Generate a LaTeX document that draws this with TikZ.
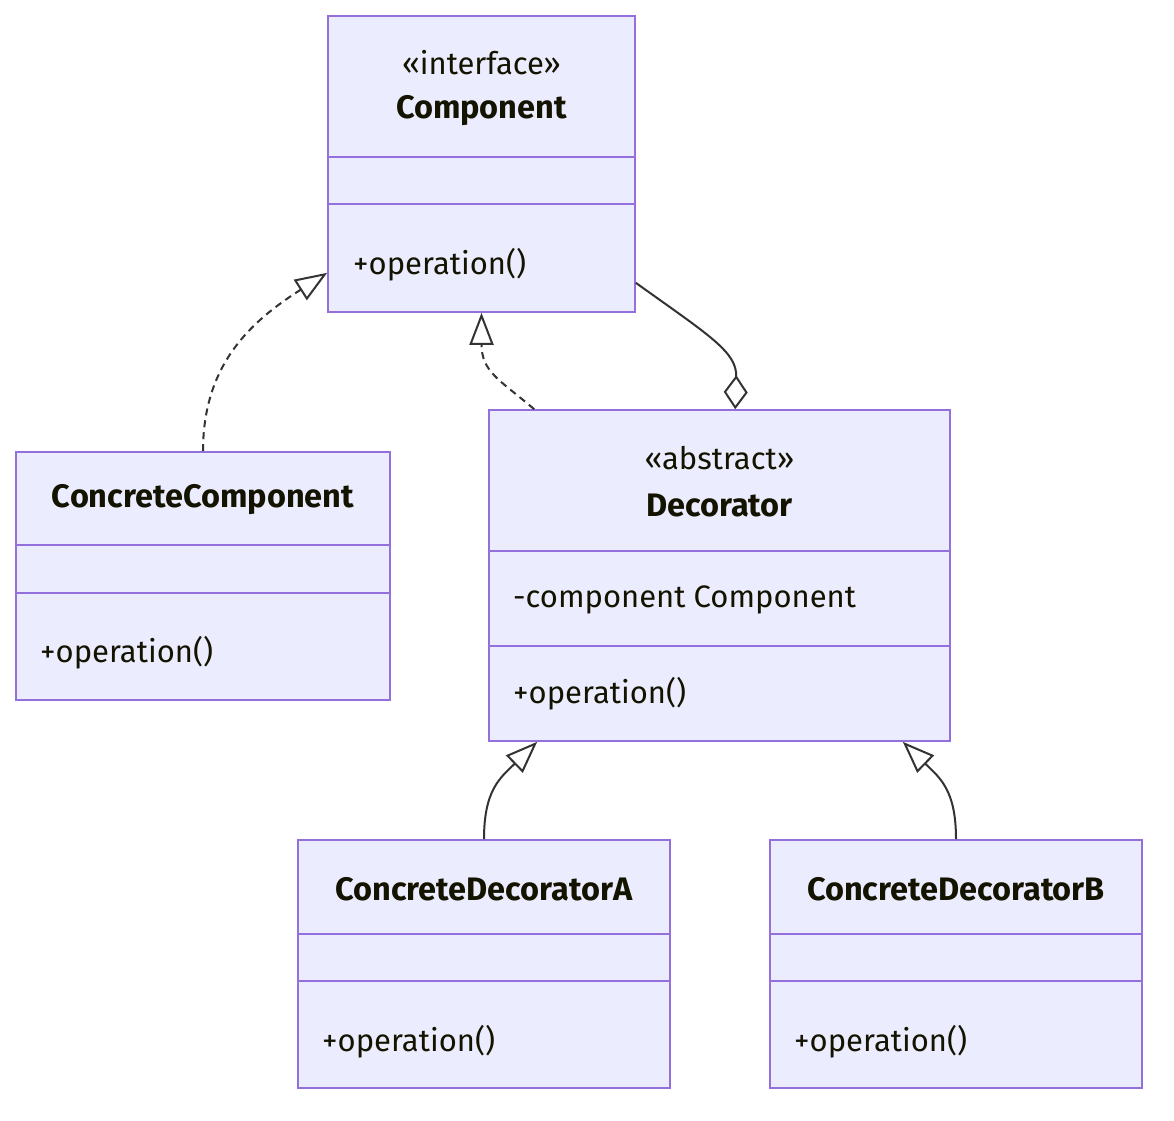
\documentclass[tikz,border=0pt]{standalone}
\usepackage{fontspec}
\usepackage{tikz}
\usepackage{xcolor}
\setmainfont{Fira Sans}
\usetikzlibrary{arrows.meta}
\definecolor{boxfill}{HTML}{ECECFF}
\definecolor{boxline}{HTML}{9370DB}
\definecolor{edgeline}{HTML}{333333}
\definecolor{textcol}{HTML}{131300}

\begin{document}
\begin{tikzpicture}[x=1pt,y=-1pt,
  classbox/.style={draw=boxline,fill=boxfill,line width=1.6pt,inner sep=0pt},
  divider/.style={draw=boxline,line width=1.6pt},
  title/.style={font=\fontsize{32.5}{38}\selectfont\bfseries,text=textcol,inner sep=0pt},
  stereo/.style={font=\fontsize{31}{36}\selectfont,text=textcol,inner sep=0pt},
  member/.style={font=\fontsize{31}{36}\selectfont,text=textcol,anchor=west,inner sep=0pt},
  realize/.style={draw=edgeline,line width=2pt,dash pattern=on 7pt off 5pt,
    -{Triangle[open,length=32pt,width=24pt]}},
  inherit/.style={draw=edgeline,line width=2pt,-{Triangle[open,length=32pt,width=24pt]}},
  aggregate/.style={draw=edgeline,line width=2pt,-{Diamond[open,length=34pt,width=24pt]}}]
\useasboundingbox (0,0) rectangle (1174,1120);

% class boxes
\node[classbox,minimum width=307pt,minimum height=296pt] (comp) at (481.5,164) {};
\node[classbox,minimum width=374pt,minimum height=248pt] (cc) at (203,576) {};
\node[classbox,minimum width=461pt,minimum height=331pt] (dec) at (719.5,575.5) {};
\node[classbox,minimum width=372pt,minimum height=248pt] (cda) at (484,964) {};
\node[classbox,minimum width=372pt,minimum height=248pt] (cdb) at (956,964) {};

% compartments
\draw[divider] ([yshift=-142pt]comp.north west) -- ([yshift=-142pt]comp.north east);
\draw[divider] ([yshift=-189pt]comp.north west) -- ([yshift=-189pt]comp.north east);
\draw[divider] ([yshift=-94pt]cc.north west) -- ([yshift=-94pt]cc.north east);
\draw[divider] ([yshift=-142pt]cc.north west) -- ([yshift=-142pt]cc.north east);
\draw[divider] ([yshift=-142pt]dec.north west) -- ([yshift=-142pt]dec.north east);
\draw[divider] ([yshift=-237pt]dec.north west) -- ([yshift=-237pt]dec.north east);
\foreach \b in {cda,cdb}{
  \draw[divider] ([yshift=-95pt]\b.north west) -- ([yshift=-95pt]\b.north east);
  \draw[divider] ([yshift=-142pt]\b.north west) -- ([yshift=-142pt]\b.north east);
}

% texts
\node[stereo] (compst) at (481.5,63) {«interface»};
\node[title] (compti) at (481.5,111) {Component};
\node[member] (compop) at (353,265) {+operation()};
\node[title] (ccti) at (203,500) {ConcreteComponent};
\node[member] (ccop) at (40,653) {+operation()};
\node[stereo] (decst) at (719.5,458) {«abstract»};
\node[title] (decti) at (719.5,506) {Decorator};
\node[member] (decfld) at (513,600) {-component Component};
\node[member] (decop) at (513,694) {+operation()};
\node[title] (cdati) at (484,889) {ConcreteDecoratorA};
\node[member] (cdaop) at (322,1042) {+operation()};
\node[title] (cdbti) at (956,889) {ConcreteDecoratorB};
\node[member] (cdbop) at (794,1042) {+operation()};

% relations
\draw[realize] (cc.north) .. controls (203,365) and (250,322) .. ([yshift=40pt]comp.south west);
\draw[realize] ([xshift=46pt]dec.north west) .. controls (500,380) and (481.5,372) .. (comp.south);
\draw[aggregate] ([yshift=30pt]comp.south east) .. controls (710,336) and (737,352) .. ([xshift=247pt]dec.north west);
\draw[inherit] (cda.north) .. controls (484,790) and (500,778) .. ([xshift=49pt]dec.south west);
\draw[inherit] (cdb.north) .. controls (956,790) and (940,778) .. ([xshift=-48pt]dec.south east);
\end{tikzpicture}
\end{document}
